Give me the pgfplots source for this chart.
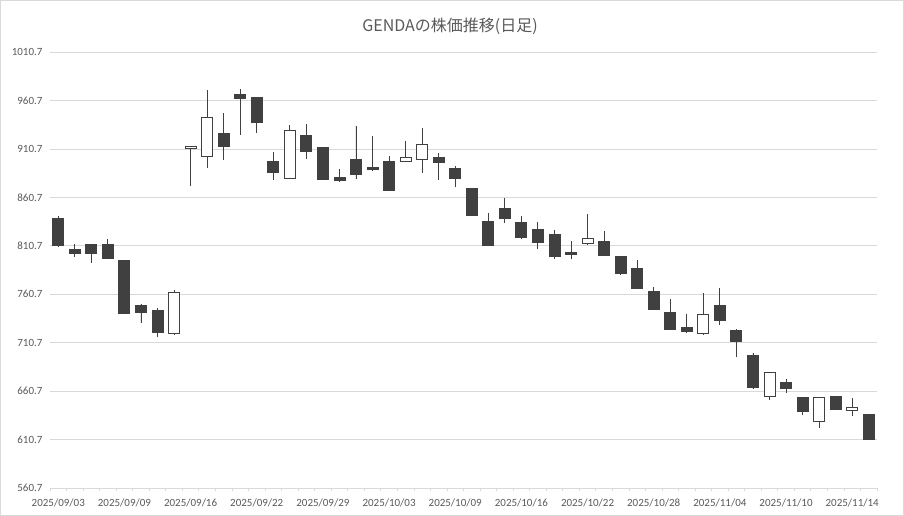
\documentclass[border=0pt]{standalone}
\usepackage{pgfplots}
\pgfplotsset{compat=1.18}
\usepgfplotslibrary{statistics}
\usepackage{fontspec}
\setmainfont{Carlito}
\newfontfamily\cjk{Noto Sans CJK JP}
\definecolor{cdark}{HTML}{404040}
\definecolor{gridc}{HTML}{D9D9D9}
\definecolor{labc}{HTML}{595959}
% \cdn / \cdup : {index}{open}{high}{low}{close}
\newcommand{\cdn}[5]{%
  \addplot+[draw=cdark, line width=0.9pt, solid, fill=cdark, mark=none,
    boxplot prepared={draw direction=y, draw position=#1, lower whisker=#4, lower quartile=#5, median=#5, upper quartile=#2, upper whisker=#3, box extend=0.665, whisker extend=0}] coordinates {};}
\newcommand{\cdup}[5]{%
  \addplot+[draw=cdark, line width=0.9pt, solid, fill=white, mark=none,
    boxplot prepared={draw direction=y, draw position=#1, lower whisker=#4, lower quartile=#2, median=#2, upper quartile=#5, upper whisker=#3, box extend=0.665, whisker extend=0}] coordinates {};}
\begin{document}
\begin{tikzpicture}
\useasboundingbox (0,0) rectangle (904pt,516pt);
\draw[gridc, line width=0.75pt] (0.375pt,0.375pt) rectangle (903.625pt,515.625pt);
\node[anchor=base, text=labc, font=\cjk\fontsize{16}{18}\selectfont] at (450pt,484.3pt) {GENDAの株価推移(日足)};
\begin{axis}[
  at={(50pt,28pt)}, anchor=south west, scale only axis,
  width=827pt, height=436pt,
  boxplot/draw direction=y,
  xmin=-0.5, xmax=49.5, ymin=560.7, ymax=1010.7,
  ytick={560.7,610.7,660.7,710.7,760.7,810.7,860.7,910.7,960.7,1010.7},
  yticklabels={560.7,610.7,660.7,710.7,760.7,810.7,860.7,910.7,960.7,1010.7},
  xtick={0,4,8,12,16,20,24,28,32,36,40,44,48},
  xticklabels={2025/09/03,2025/09/09,2025/09/16,2025/09/22,2025/09/29,2025/10/03,2025/10/09,2025/10/16,2025/10/22,2025/10/28,2025/11/04,2025/11/10,2025/11/14},
  ymajorgrids, grid style={draw=gridc, line width=0.75pt},
  axis line style={draw=none},
  major tick length=0pt,
  xtick pos=bottom, ytick pos=left,
  tick label style={font=\fontsize{11}{13}\selectfont, text=labc},
  yticklabel style={xshift=-4pt},
  xticklabel style={yshift=-7pt},
  extra x ticks={-0.5,0.5,1.5,2.5,3.5,4.5,5.5,6.5,7.5,8.5,9.5,10.5,11.5,12.5,13.5,14.5,15.5,16.5,17.5,18.5,19.5,20.5,21.5,22.5,23.5,24.5,25.5,26.5,27.5,28.5,29.5,30.5,31.5,32.5,33.5,34.5,35.5,36.5,37.5,38.5,39.5,40.5,41.5,42.5,43.5,44.5,45.5,46.5,47.5,48.5,49.5},
  extra x tick labels={},
  extra x tick style={major tick length=3pt, tick align=outside, xtick pos=bottom, tick style={draw=gridc, line width=0.75pt}},
]
\cdn{0}{838.4}{841.5}{809.3}{810.7}
\cdn{1}{806.6}{812.1}{799.1}{802.5}
\cdn{2}{811.7}{811.7}{793.2}{802.5}
\cdn{3}{811.7}{817.9}{797.0}{798.0}
\cdn{4}{795.3}{795.3}{740.8}{740.8}
\cdn{5}{749.1}{751.1}{731.2}{741.9}
\cdn{6}{744.3}{746.0}{716.2}{721.0}
\cdup{7}{719.9}{765.5}{718.2}{762.4}
\cdup{8}{910.7}{912.8}{872.3}{912.8}
\cdup{9}{902.5}{971.2}{890.8}{943.5}
\cdn{10}{927.1}{947.6}{899.1}{912.8}
\cdn{11}{966.9}{972.1}{925.1}{962.5}
\cdn{12}{963.5}{963.5}{927.1}{937.8}
\cdn{13}{897.5}{907.8}{879.0}{885.9}
\cdup{14}{879.9}{935.4}{879.9}{930.2}
\cdn{15}{924.1}{936.7}{900.1}{908.3}
\cdn{16}{911.7}{911.7}{878.9}{878.9}
\cdn{17}{880.9}{890.2}{876.5}{877.8}
\cdn{18}{899.4}{934.3}{879.5}{884.0}
\cdn{19}{891.2}{924.1}{887.8}{889.8}
\cdn{20}{897.3}{903.5}{867.5}{867.5}
\cdup{21}{897.3}{918.9}{897.3}{902.1}
\cdup{22}{899.4}{932.3}{885.7}{914.8}
\cdn{23}{901.5}{906.6}{878.5}{896.3}
\cdn{24}{890.2}{893.2}{871.3}{879.9}
\cdn{25}{869.6}{869.6}{841.9}{841.9}
\cdn{26}{835.7}{844.9}{811.0}{811.0}
\cdn{27}{849.4}{859.7}{834.7}{838.8}
\cdn{28}{835.0}{841.2}{817.2}{819.3}
\cdn{29}{827.8}{835.0}{806.9}{814.1}
\cdn{30}{822.7}{826.8}{796.7}{799.7}
\cdn{31}{803.5}{815.5}{796.7}{802.1}
\cdup{32}{813.4}{843.2}{811.0}{818.6}
\cdn{33}{815.5}{825.8}{799.7}{800.8}
\cdn{34}{800.1}{800.1}{780.2}{782.3}
\cdn{35}{787.8}{796.0}{765.8}{766.9}
\cdn{36}{763.1}{768.2}{744.6}{744.6}
\cdn{37}{741.5}{755.9}{724.4}{724.4}
\cdn{38}{726.8}{740.2}{720.3}{722.7}
\cdup{39}{720.3}{761.7}{718.6}{740.2}
\cdn{40}{749.4}{766.9}{728.5}{734.0}
\cdn{41}{723.7}{724.7}{695.6}{712.4}
\cdn{42}{698.0}{700.1}{662.8}{664.1}
\cdup{43}{654.9}{679.5}{651.5}{679.5}
\cdn{44}{669.3}{673.4}{659.0}{663.1}
\cdn{45}{653.9}{654.9}{636.4}{639.5}
\cdup{46}{629.2}{653.9}{623.0}{653.9}
\cdn{47}{654.9}{655.9}{641.5}{641.5}
\cdup{48}{640.5}{653.9}{635.4}{643.6}
\cdn{49}{636.4}{637.4}{610.7}{610.7}
\end{axis}
\end{tikzpicture}
\end{document}
